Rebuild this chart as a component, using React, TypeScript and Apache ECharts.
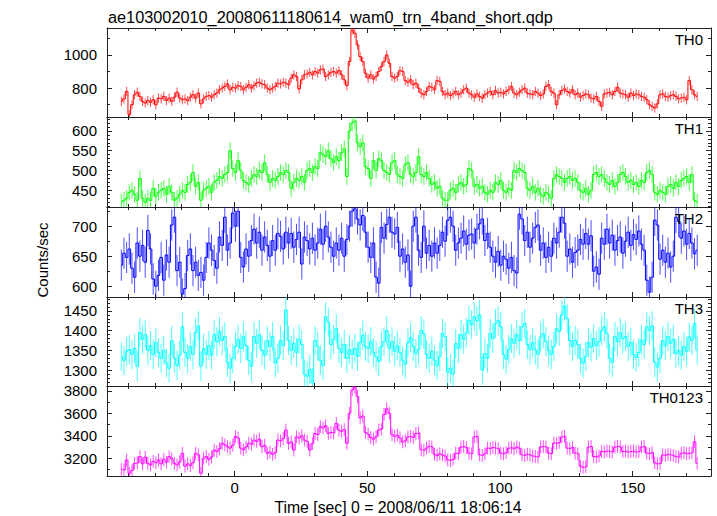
import React, { useEffect, useRef } from 'react';
import * as echarts from 'echarts';

const TITLE = 'ae103002010_20080611180614_wam0_trn_4band_short.qdp';
const X_TITLE = 'Time [sec] 0 = 2008/06/11 18:06:14';
const Y_TITLE = 'Counts/sec';
const BAND_NAMES = ['TH0', 'TH1', 'TH2', 'TH3', 'TH0123'];

// bin centres: first bin at -42.7 s, 1 s bins
const T_START = -42.7;
const BIN = 1;

const TH0 = [
  720, 735, 780, 640, 700, 760, 775, 750, 720, 710,
  725, 715, 730, 700, 740, 735, 750, 725, 740, 720,
  745, 775, 740, 730, 735, 725, 745, 760, 740, 770,
  705, 735, 750, 755, 745, 760, 770, 790, 800, 810,
  825, 790, 805, 800, 815, 810, 790, 805, 820, 800,
  815, 830, 835, 825, 820, 800, 790, 800, 810, 830,
  825, 835, 830, 820, 860, 880, 870, 795, 850, 880,
  885, 895, 880, 900, 890, 910, 915, 870, 880, 895,
  900, 890, 905, 880, 850, 815, 960, 1150, 1130, 1060,
  990, 960, 890, 860, 880, 855, 870, 900, 930, 960,
  1000, 950, 870, 860, 870, 905, 900, 845, 835, 850,
  820, 830, 800, 770, 760, 780, 810, 805, 790, 845,
  840, 780, 760, 770, 755, 765, 780, 760, 770, 790,
  800, 770, 760, 745, 765, 750, 740, 760, 770, 780,
  760, 785, 770, 775, 765, 780, 790, 810, 770, 760,
  775, 790, 800, 770, 765, 760, 780, 770, 755, 765,
  810, 820, 780, 770, 700, 760, 785, 795, 780, 770,
  790, 760, 770, 745, 755, 765, 760, 740, 735, 750,
  720, 690, 765, 770, 775, 760, 780, 805, 770, 765,
  760, 745, 770, 755, 765, 760, 750, 745, 730, 700,
  690, 680, 705, 760, 765, 750, 745, 755, 760, 750,
  735, 740, 745, 730, 845, 790, 760, 750,
];

const TH1 = [
  420, 425, 430, 445, 450, 440, 425, 480, 430, 420,
  430, 425, 455, 435, 445, 450, 455, 440, 460, 445,
  425, 430, 440, 450, 445, 465, 470, 495, 460, 470,
  425, 450, 455, 460, 445, 470, 475, 485, 480, 490,
  495, 550, 505, 495, 525, 500, 475, 470, 465, 480,
  490, 485, 500, 495, 520, 490, 470, 480, 475, 485,
  495, 490, 500, 495, 455, 470, 480, 475, 485, 470,
  500, 505, 495, 510, 505, 545, 540, 535, 550, 530,
  520, 535, 525, 545, 555, 485, 600, 620, 625, 570,
  560, 570, 510, 505, 480, 525, 500, 530, 525, 500,
  495, 490, 520, 525, 490, 485, 480, 515, 520, 490,
  485, 495, 535, 490, 485, 495, 480, 465, 470, 455,
  460, 430, 425, 425, 450, 455, 445, 465, 470, 460,
  465, 505, 500, 460, 465, 455, 460, 445, 440, 450,
  445, 470, 465, 475, 450, 445, 455, 450, 500, 495,
  505, 500, 495, 455, 450, 460, 445, 455, 440, 435,
  445, 440, 430, 480, 490, 485, 480, 470, 480, 485,
  475, 480, 470, 450, 445, 455, 440, 450, 490, 495,
  485, 490, 480, 470, 465, 475, 460, 470, 490, 495,
  485, 470, 475, 465, 470, 460, 475, 470, 495, 500,
  490, 445, 440, 450, 445, 440, 460, 465, 455, 470,
  460, 475, 480, 485, 470, 490, 425, 420,
];

const TH2 = [
  635, 655, 648, 662, 630, 615, 672, 650, 668, 640,
  693, 662, 612, 600, 618, 648, 610, 652, 640, 702,
  715, 626, 640, 587, 596, 651, 662, 626, 640, 618,
  623, 610, 648, 672, 660, 643, 630, 682, 668, 715,
  660, 672, 722, 700, 725, 648, 632, 662, 650, 676,
  695, 672, 690, 660, 682, 668, 650, 676, 660, 688,
  683, 662, 690, 672, 688, 665, 678, 690, 637, 682,
  676, 662, 680, 660, 672, 695, 670, 700, 682, 665,
  650, 672, 660, 680, 650, 678, 700, 725, 729, 712,
  702, 718, 690, 665, 648, 672, 615, 605, 698, 680,
  703, 715, 690, 687, 698, 650, 662, 640, 652, 600,
  700, 715, 660, 648, 700, 655, 668, 650, 672, 655,
  668, 690, 675, 710, 715, 700, 660, 672, 680, 692,
  670, 685, 687, 672, 695, 704, 712, 676, 688, 665,
  650, 640, 658, 635, 650, 645, 630, 648, 626, 622,
  720, 712, 676, 690, 665, 680, 698, 702, 660, 672,
  648, 665, 650, 680, 672, 690, 715, 705, 650, 662,
  640, 656, 660, 678, 670, 688, 670, 684, 625, 632,
  620, 680, 670, 695, 672, 685, 660, 676, 682, 655,
  675, 690, 668, 686, 678, 692, 670, 660, 610, 590,
  615, 710, 702, 645, 660, 640, 655, 632, 650, 715,
  708, 680, 692, 670, 688, 672, 654, 660,
];

const TH3 = [
  1335, 1325, 1348, 1352, 1340, 1355, 1310, 1395, 1378, 1390,
  1350, 1362, 1340, 1370, 1345, 1330, 1350, 1318, 1305, 1375,
  1330, 1312, 1338, 1410, 1345, 1330, 1360, 1340, 1395, 1412,
  1310, 1355, 1340, 1362, 1338, 1390, 1372, 1398, 1375, 1385,
  1320, 1305, 1330, 1360, 1378, 1355, 1385, 1362, 1325, 1310,
  1385, 1368, 1390, 1350, 1338, 1375, 1360, 1385, 1318, 1330,
  1375, 1362, 1452, 1375, 1350, 1368, 1345, 1378, 1365, 1290,
  1285, 1302, 1268, 1375, 1360, 1325, 1312, 1435, 1422, 1365,
  1378, 1405, 1355, 1345, 1365, 1330, 1352, 1340, 1355, 1335,
  1370, 1388, 1360, 1355, 1372, 1345, 1334, 1322, 1360, 1372,
  1400, 1355, 1372, 1348, 1362, 1345, 1325, 1315, 1370, 1382,
  1360, 1342, 1352, 1400, 1392, 1340, 1330, 1348, 1325, 1312,
  1335, 1393, 1385, 1295, 1305, 1290, 1367, 1355, 1390, 1378,
  1395, 1426, 1415, 1435, 1425, 1440, 1300, 1342, 1330, 1393,
  1380, 1418, 1425, 1410, 1340, 1328, 1352, 1380, 1368, 1390,
  1375, 1410, 1418, 1365, 1352, 1370, 1351, 1340, 1384, 1392,
  1372, 1350, 1340, 1360, 1405, 1398, 1440, 1462, 1430, 1375,
  1360, 1375, 1365, 1330, 1318, 1335, 1370, 1358, 1380, 1362,
  1372, 1400, 1410, 1392, 1330, 1320, 1385, 1372, 1395, 1380,
  1385, 1360, 1370, 1340, 1332, 1345, 1376, 1365, 1410, 1400,
  1412, 1320, 1308, 1330, 1375, 1362, 1385, 1368, 1378, 1342,
  1350, 1338, 1360, 1348, 1384, 1375, 1418, 1351,
];

const TH0123 = [
  3100, 3095, 3184, 3066, 3090, 3155, 3160, 3214, 3150, 3210,
  3155, 3140, 3172, 3160, 3185, 3150, 3190, 3165, 3214, 3195,
  3155, 3140, 3168, 3244, 3130, 3150, 3135, 3160, 3244, 3230,
  3066, 3200, 3215, 3190, 3210, 3273, 3260, 3285, 3333, 3320,
  3303, 3290, 3315, 3392, 3380, 3290, 3275, 3300, 3333, 3325,
  3362, 3350, 3370, 3303, 3315, 3244, 3255, 3235, 3250, 3362,
  3355, 3375, 3451, 3333, 3345, 3273, 3390, 3380, 3400, 3362,
  3350, 3273, 3330, 3421, 3410, 3481, 3470, 3490, 3421, 3430,
  3425, 3511, 3451, 3440, 3455, 3333, 3600, 3807, 3830, 3748,
  3560, 3575, 3430, 3415, 3385, 3370, 3390, 3450, 3460, 3590,
  3640, 3600, 3410, 3395, 3405, 3380, 3345, 3355, 3390, 3395,
  3385, 3420, 3425, 3275, 3270, 3290, 3305, 3300, 3235, 3225,
  3240, 3230, 3220, 3185, 3180, 3190, 3245, 3240, 3300, 3305,
  3295, 3245, 3240, 3390, 3395, 3230, 3225, 3240, 3290, 3285,
  3295, 3290, 3285, 3245, 3240, 3250, 3290, 3295, 3285, 3300,
  3290, 3230, 3225, 3235, 3230, 3220, 3215, 3210, 3300, 3305,
  3300, 3245, 3240, 3335, 3330, 3340, 3390, 3395, 3290, 3285,
  3295, 3245, 3240, 3130, 3120, 3125, 3300, 3305, 3215, 3210,
  3220, 3260, 3255, 3265, 3260, 3255, 3300, 3305, 3300, 3260,
  3265, 3255, 3260, 3265, 3255, 3260, 3300, 3305, 3245, 3240,
  3250, 3160, 3150, 3155, 3230, 3225, 3235, 3230, 3225, 3214,
  3210, 3244, 3250, 3240, 3245, 3250, 3348, 3155,
];

// typical 1-sigma error bar half-length of each band (counts/sec)
const ERRORS = [28, 21, 26, 37, 57];

const Y_MIN = [626, 408, 582, 1260, 3042];
const Y_MAX = [1162, 635, 732, 1485, 3843];
const X_MIN = -48.1;
const X_MAX = 179.5;

const SERIES = [TH0, TH1, TH2, TH3, TH0123];

// layout / style (not data)
const COLORS = ['#ff0000', '#00ff00', '#0000ff', '#00ffff', '#ff00ff'];
const Y_SPLIT = [3, 5, 3, 5, 4];
const Y_MINOR = [2, 5, 2, 5, 2];
const GRID_TOP = [28, 117, 207, 297, 386];
const GRID_H = [89, 90, 90, 89, 90];
const GRID_LEFT = 107;
const GRID_W = 604;
const FONT = '"Liberation Sans", Arial, Helvetica, sans-serif';
const AXIS_COLOR = '#222';

export default function App() {
  const ref = useRef<HTMLDivElement>(null);

  useEffect(() => {
    if (!ref.current) return;
    const chart = echarts.init(ref.current, null, { renderer: 'svg' });

    const grids: any[] = [];
    const xAxes: any[] = [];
    const yAxes: any[] = [];
    const series: any[] = [];
    const graphics: any[] = [];

    const tick = { show: true, inside: true, length: 5, lineStyle: { color: AXIS_COLOR, width: 1 } };
    const axisLine = { show: true, onZero: false, lineStyle: { color: AXIS_COLOR, width: 1 } };
    const fmt = (v: number) => String(Math.round(v));

    for (let g = 0; g < 5; g++) {
      grids.push({ left: GRID_LEFT, top: GRID_TOP[g], width: GRID_W, height: GRID_H[g], containLabel: false });
      for (const pos of ['bottom', 'top']) {
        xAxes.push({
          gridIndex: g,
          type: 'value',
          position: pos,
          min: X_MIN,
          max: X_MAX,
          splitNumber: 5,
          axisLine,
          axisTick: tick,
          minorTick: { show: true, splitNumber: 5, length: 3, lineStyle: { color: AXIS_COLOR, width: 1 } },
          splitLine: { show: false },
          axisLabel: {
            show: g === 4 && pos === 'bottom',
            showMinLabel: false,
            showMaxLabel: false,
            formatter: fmt,
            margin: 4,
            color: '#000',
            fontSize: 15,
            fontFamily: FONT,
          },
        });
      }
      for (const pos of ['left', 'right']) {
        yAxes.push({
          gridIndex: g,
          type: 'value',
          position: pos,
          min: Y_MIN[g],
          max: Y_MAX[g],
          splitNumber: Y_SPLIT[g],
          axisLine,
          axisTick: tick,
          minorTick: { show: true, splitNumber: Y_MINOR[g], length: 3, lineStyle: { color: AXIS_COLOR, width: 1 } },
          splitLine: { show: false },
          axisLabel: {
            show: pos === 'left',
            showMinLabel: false,
            showMaxLabel: false,
            formatter: fmt,
            margin: 10,
            color: '#000',
            fontSize: 15,
            fontFamily: FONT,
          },
        });
      }

      const values = SERIES[g];
      const lineData = values.map((v, i) => [T_START + i * BIN, v]);
      const errData = values.map((v, i) => [T_START + i * BIN, v, ERRORS[g]]);
      const color = COLORS[g];

      series.push({
        type: 'custom',
        xAxisIndex: g * 2,
        yAxisIndex: g * 2,
        clip: true,
        silent: true,
        data: errData,
        encode: { x: 0, y: 1 },
        renderItem: (params: any, api: any) => {
          const x = api.value(0);
          const y = api.value(1);
          const e = api.value(2);
          const p1 = api.coord([x, y - e]);
          const p2 = api.coord([x, y + e]);
          return {
            type: 'line',
            shape: { x1: p1[0], y1: p1[1], x2: p2[0], y2: p2[1] },
            style: { stroke: color, lineWidth: 1, opacity: 0.7 },
          };
        },
        z: 2,
      });
      series.push({
        type: 'line',
        xAxisIndex: g * 2,
        yAxisIndex: g * 2,
        step: 'middle',
        symbol: 'none',
        showSymbol: false,
        clip: true,
        silent: true,
        data: lineData,
        lineStyle: { color, width: 1 },
        z: 3,
      });

      graphics.push({
        type: 'text',
        right: 717 - 703,
        top: GRID_TOP[g] + 4,
        style: {
          text: BAND_NAMES[g],
          fill: '#000',
          font: `15px ${FONT}`,
          textAlign: 'right',
        },
        z: 10,
      });
    }

    graphics.push({
      type: 'text',
      x: 398,
      y: 507,
      style: {
        text: X_TITLE,
        fill: '#000',
        font: `15.8px ${FONT}`,
        textAlign: 'center',
        textVerticalAlign: 'middle',
      },
    });
    graphics.push({
      type: 'text',
      x: 42,
      y: 260,
      rotation: Math.PI / 2,
      style: {
        text: Y_TITLE,
        fill: '#000',
        font: `15px ${FONT}`,
        textAlign: 'center',
        textVerticalAlign: 'middle',
      },
    });

    chart.setOption({
      animation: false,
      backgroundColor: '#fff',
      title: {
        text: TITLE,
        left: 103,
        top: 4,
        textStyle: { color: '#000', fontSize: 16.3, fontWeight: 'normal', fontFamily: FONT },
      },
      grid: grids,
      xAxis: xAxes,
      yAxis: yAxes,
      series,
      graphic: graphics,
    });

    return () => chart.dispose();
  }, []);

  return (
    <div
      ref={ref}
      style={{ position: 'absolute', left: 0, top: 0, width: 717, height: 516 }}
    />
  );
}
